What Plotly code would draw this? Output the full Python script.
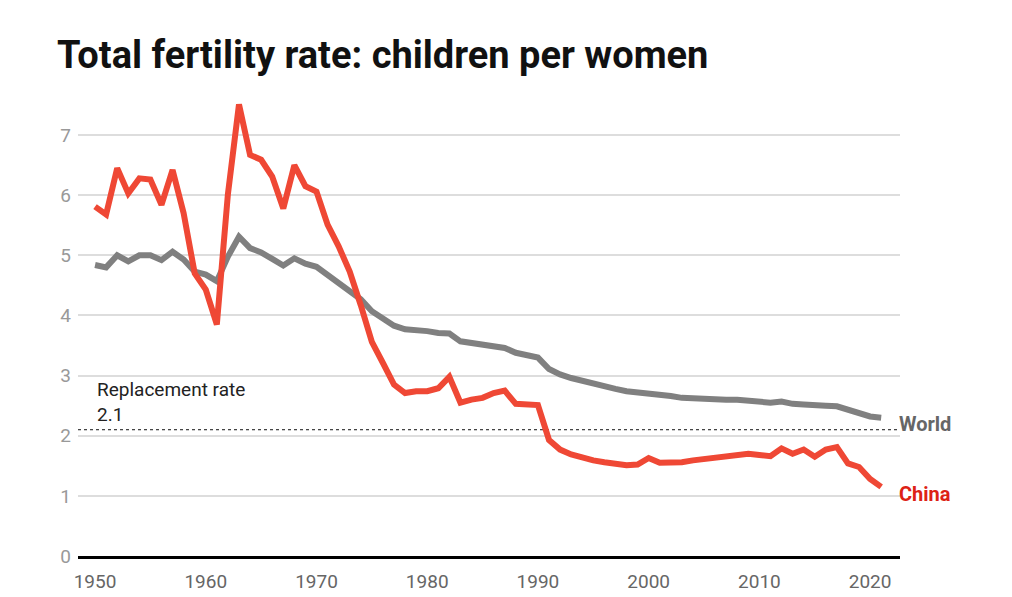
import plotly.graph_objects as go

years = list(range(1950, 2022))

china = [5.81, 5.68, 6.45, 6.03, 6.28, 6.26, 5.84, 6.42, 5.70, 4.70,
         4.43, 3.85, 6.02, 7.51, 6.67, 6.59, 6.31, 5.78, 6.50, 6.15,
         6.06, 5.51, 5.15, 4.73, 4.17, 3.56, 3.21, 2.85, 2.71, 2.74,
         2.74, 2.79, 2.98, 2.55, 2.60, 2.63, 2.71, 2.75, 2.53, 2.51,
         2.51, 1.93, 1.77, 1.69, 1.63, 1.59, 1.56, 1.53, 1.51, 1.52,
         1.63, 1.55, 1.55, 1.56, 1.59, 1.61, 1.63, 1.65, 1.68, 1.70,
         1.68, 1.66, 1.79, 1.70, 1.77, 1.65, 1.77, 1.81, 1.54, 1.48,
         1.28, 1.15]

world = [4.84, 4.80, 5.00, 4.90, 5.00, 5.00, 4.92, 5.06, 4.93, 4.73,
         4.68, 4.57, 4.98, 5.31, 5.12, 5.05, 4.94, 4.83, 4.95, 4.86,
         4.81, 4.68, 4.55, 4.42, 4.27, 4.07, 3.95, 3.83, 3.77, 3.76,
         3.74, 3.71, 3.70, 3.57, 3.54, 3.50, 3.49, 3.46, 3.38, 3.33,
         3.30, 3.11, 3.02, 2.96, 2.91, 2.86, 2.82, 2.78, 2.74, 2.72,
         2.72, 2.69, 2.66, 2.63, 2.62, 2.60, 2.60, 2.60, 2.60, 2.59,
         2.57, 2.55, 2.57, 2.53, 2.52, 2.50, 2.50, 2.49, 2.43, 2.38,
         2.32, 2.30]

replacement_rate = 2.1
x_ticks = [1950, 1960, 1970, 1980, 1990, 2000, 2010, 2020]
y_ticks = [0, 1, 2, 3, 4, 5, 6, 7]

fig = go.Figure()

fig.add_trace(go.Scatter(
    x=[1948.46, 2022.7], y=[replacement_rate, replacement_rate],
    mode="lines", line=dict(color="#111111", width=1, dash="dot"),
    hoverinfo="skip", showlegend=False))

fig.add_trace(go.Scatter(
    x=years, y=world, mode="lines", name="World",
    line=dict(color="#808080", width=6),
    showlegend=False))

fig.add_trace(go.Scatter(
    x=years, y=china, mode="lines", name="China",
    line=dict(color="#ef4835", width=6),
    showlegend=False))

fig.add_annotation(x=years[-1], y=world[-1], text="<b>World</b>",
                   xref="x", yref="y", xanchor="left", yanchor="middle",
                   xshift=16, yshift=-6, showarrow=False,
                   font=dict(family="Roboto", size=20, color="#666666"))
fig.add_annotation(x=years[-1], y=china[-1], text="<b>China</b>",
                   xref="x", yref="y", xanchor="left", yanchor="middle",
                   xshift=16, yshift=-7, showarrow=False,
                   font=dict(family="Roboto", size=20, color="#dd2215"))
fig.add_annotation(x=1950, y=replacement_rate, text="Replacement rate<br>2.1",
                   xref="x", yref="y", xanchor="left", yanchor="bottom",
                   yshift=2, showarrow=False, align="left",
                   font=dict(family="Roboto", size=19, color="#222222"))

fig.update_layout(
    width=1012, height=597,
    paper_bgcolor="white", plot_bgcolor="white",
    margin=dict(l=70, r=120, t=91, b=46),
    title=dict(text="<b>Total fertility rate: children per women</b>",
               x=49 / 1012, xref="container", xanchor="left",
               y=1 - 47 / 597, yref="container", yanchor="middle",
               font=dict(family="Roboto", size=38, color="#111111")),
    font=dict(family="Roboto"),
    hovermode=False,
)

fig.update_xaxes(range=[1948.46, 2022.7], tickvals=x_ticks,
                 showgrid=False, zeroline=False,
                 showline=True, linecolor="#000000", linewidth=3,
                 ticks="", ticklabelstandoff=6,
                 tickfont=dict(family="Roboto", size=19, color="#666666"))
fig.update_yaxes(range=[0, 7.6], tickvals=y_ticks,
                 showgrid=True, gridcolor="#dddddd", gridwidth=2,
                 zeroline=False, showline=False, ticks="",
                 ticklabelstandoff=6,
                 tickfont=dict(family="Roboto", size=19, color="#999999"))

fig.write_html("out.html")
